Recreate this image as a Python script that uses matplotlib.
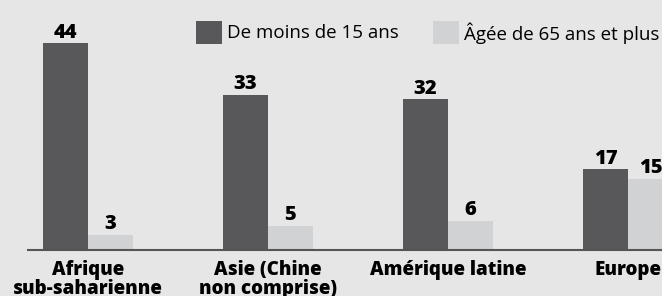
import matplotlib.pyplot as plt
from matplotlib.patches import Rectangle
import numpy as np

plt.rcParams['font.family'] = ['Open Sans', 'DejaVu Sans']

regions = ['Afrique\nsub-saharienne', 'Asie (Chine\nnon comprise)', 'Amérique latine', 'Europe']
moins_15 = [44, 33, 32, 17]
plus_65 = [3, 5, 6, 15]
series_names = ['De moins de 15 ans', 'Âgée de 65 ans et plus']

dark = '#58585a'
light = '#d1d2d4'
bg = '#e6e6e6'

W, H = 662, 296
fig = plt.figure(figsize=(W / 100, H / 100), dpi=100, facecolor=bg)
ax = fig.add_axes([0, 0, 1, 1])
ax.set_facecolor(bg)

# 180 px per group, bars 45 px wide, baseline at 249 px from top
x = np.arange(len(regions))
w = 0.25
ax.set_xlim(-88 / 180, (W - 88) / 180)
scale = 4.68
ax.set_ylim(-(H - 249) / scale, 249 / scale)

ax.bar(x - w / 2, moins_15, w, color=dark)
ax.bar(x + w / 2, plus_65, w, color=light)

for xi, v in zip(x - w / 2, moins_15):
    ax.text(xi, v + 0.1, str(v), ha='center', va='bottom', fontsize=14.5, fontweight='heavy')
for xi, v in zip(x + w / 2, plus_65):
    ax.text(xi, v + 0.1, str(v), ha='center', va='bottom', fontsize=14.5, fontweight='heavy')

# baseline
ax.axhline(-0.2, xmin=28 / W, xmax=1, color='#555555', lw=1.5)

for xi, lab in zip(x, regions):
    ax.text(xi, -2.4, lab, ha='center', va='top', fontsize=13.5, fontweight='heavy',
            linespacing=0.9)

ax.axis('off')

# legend
def fx(p):
    return p / W

def fy(p):
    return 1 - p / H

for (x0, col), name in zip([(196, dark), (433, light)], series_names):
    fig.add_artist(Rectangle((fx(x0), fy(44)), 26 / W, 23 / H, transform=fig.transFigure,
                             color=col, lw=0))
    fig.text(fx(x0 + 31), fy(33), name, ha='left', va='center', fontsize=13.5)

fig.savefig('out.png', dpi=100, facecolor=bg)
